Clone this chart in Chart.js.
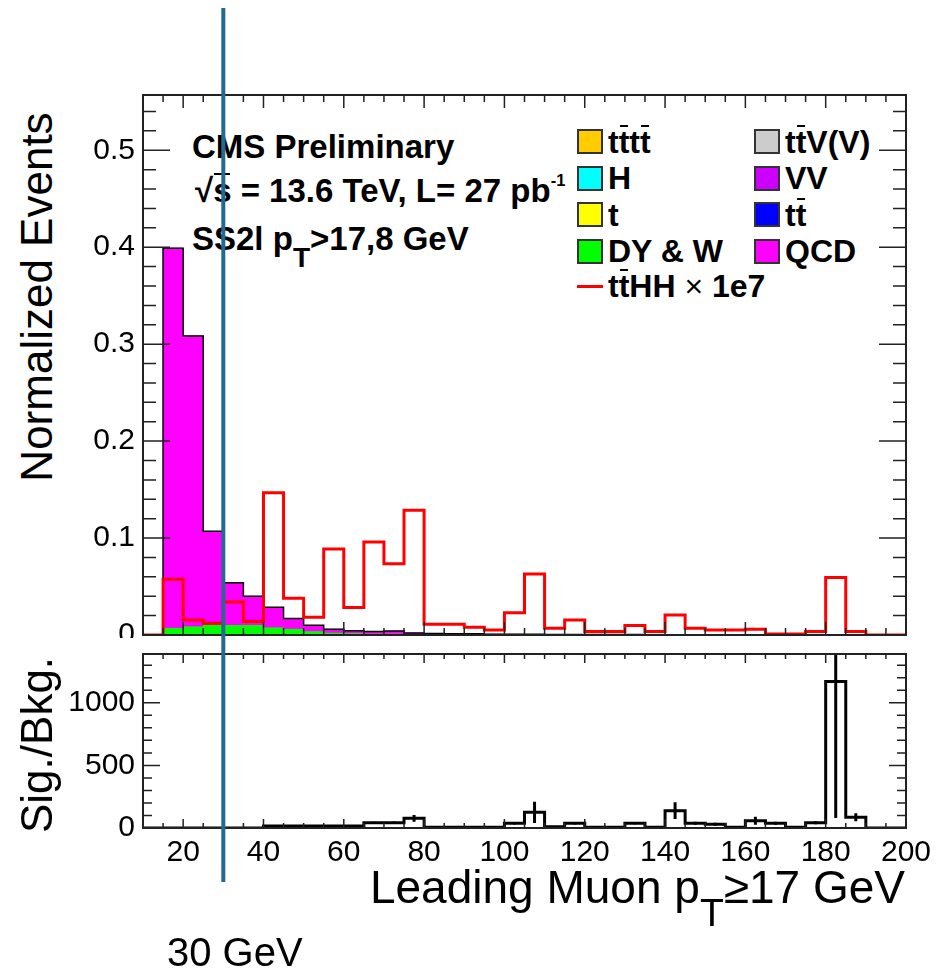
<!DOCTYPE html>
<html>
<head>
<meta charset="utf-8">
<title>Leading muon pT</title>
<script src="https://cdn.jsdelivr.net/npm/chart.js@4.4.1/dist/chart.umd.min.js"></script>
<style>
  html, body { margin: 0; padding: 0; background: #fff; }
  #page { position: relative; width: 937px; height: 971px; overflow: hidden;
          font-family: "Liberation Sans", Arial, Helvetica, sans-serif; color: #000; }
  #page canvas { position: absolute; left: 0; }
  #chartTop { top: 0; }
  #chartBottom { top: 638px; background: #fff; }
  .txt { position: absolute; line-height: 1; white-space: nowrap; }
  .b { font-weight: bold; font-size: 33px; }
  .ov { position: relative; }
  .ov::after { content: ''; position: absolute; left: 0.04em; right: 0.04em; top: 0.02em; border-top: 2px solid #000; }
  .sub { font-size: .85em; position: relative; top: .6em; line-height: 0; }
  .sup { font-size: .5em; position: relative; top: -1em; line-height: 0; }
  .vt { transform: translate(-50%, -50%) rotate(-90deg); font-size: 44px; }
  .legbox { position: absolute; width: 26px; height: 25px; box-sizing: border-box; border: 2px solid #333; }
  .legline { position: absolute; width: 26px; height: 3px; background: #ff0000; }
  .legtxt { position: absolute; line-height: 1; font-size: 32px; font-weight: bold; white-space: nowrap; }
</style>
</head>
<body>
<div id="page">
  <div class="txt b" style="left:192px;top:130px">CMS Preliminary</div>
  <div class="txt b" style="left:195px;top:174px">√<span class="ov">s</span> = 13.6 TeV, L= 27 pb<span class="sup">-1</span></div>
  <div class="txt b" style="left:192px;top:222px">SS2l p<span class="sub">T</span>&gt;17,8 GeV</div>
  <div class="txt vt" style="left:37px;top:297px">Normalized Events</div>
  <div id="legend"></div>
  <canvas id="chartTop" width="937" height="645"></canvas>
  <canvas id="chartBottom" width="937" height="333"></canvas>
  <div class="txt vt" style="left:37px;top:745px">Sig./Bkg.</div>
  <div class="txt" style="right:32px;top:864px;font-size:46px">Leading Muon p<span class="sub">T</span>≥17 GeV</div>
  <div class="txt" style="left:167px;top:932px;font-size:40px">30 GeV</div>
</div>
<script>
'use strict';

// histogram binning (GeV), 5 GeV bins from 10 to 200
const binEdges = [10, 15, 20, 25, 30, 35, 40, 45, 50, 55, 60, 65, 70, 75, 80, 85, 90, 95, 100,
  105, 110, 115, 120, 125, 130, 135, 140, 145, 150, 155, 160, 165, 170, 175, 180, 185, 190, 195, 200];

const xTickLabels = [20, 40, 60, 80, 100, 120, 140, 160, 180, 200];
const yTickLabelsTop = [0, 0.1, 0.2, 0.3, 0.4, 0.5];
const yTickLabelsBottom = [0, 500, 1000];

// backgrounds (normalized events)
const dyW = [0, 0.007, 0.0085, 0.010, 0.010, 0.010, 0.0075, 0.006, 0.0035, 0.002, 0.0015, 0.001, 0.001,
  0.0008, 0.0005, 0.0005, 0.0004, 0.0003, 0.0003, 0.0002, 0.0002, 0.0002, 0.0001, 0.0001, 0.0001,
  0.0001, 0.0001, 0, 0.0001, 0, 0, 0, 0, 0, 0, 0, 0, 0];
const qcd = [0, 0.392, 0.300, 0.097, 0.044, 0.030, 0.021, 0.011, 0.0065, 0.004, 0.003, 0.0025, 0.003,
  0.0012, 0.001, 0.0008, 0.0008, 0.0006, 0.0005, 0.0005, 0.0004, 0.0004, 0.0003, 0.0003, 0.0003,
  0.0002, 0.0002, 0.0002, 0.0002, 0.0001, 0.0001, 0.0001, 0.0001, 0.0001, 0.0001, 0, 0, 0];

// signal ttHH x 1e7
const ttHH = [0, 0.0576, 0.0155, 0.012, 0.034, 0.0138, 0.1467, 0.038, 0.0183, 0.0887, 0.0283, 0.096,
  0.0735, 0.1287, 0.011, 0.011, 0.008, 0.0052, 0.023, 0.0628, 0.0069, 0.0155, 0.0035, 0.0035, 0.0097,
  0.0035, 0.0207, 0.0069, 0.0052, 0.0052, 0.006, 0.001, 0.001, 0.0035, 0.0593, 0.0035, 0, 0];

// ratio panel
const sigBkg = [0, 0, 0, 0, 0, 0, 15, 15, 15, 15, 15, 42, 42, 77, 5, 5, 5, 5, 38, 125, 10, 38, 5, 5,
  38, 5, 138, 38, 30, 5, 58, 37, 5, 42, 1170, 85, 0, 0];
const sigBkgErr = [0, 0, 0, 0, 0, 0, 5, 5, 5, 5, 5, 8, 10, 27, 0, 0, 0, 0, 10, 85, 0, 10, 0, 0,
  8, 0, 67, 12, 12, 0, 32, 12, 0, 12, 1090, 32, 0, 0];

// legend (2 columns, row by row)
const legendNames = ['t<span class="ov">t</span>t<span class="ov">t</span>', 't<span class="ov">t</span>V(V)',
  'H', 'VV', 't', 't<span class="ov">t</span>', 'DY &amp; W', 'QCD'];
const legendColors = ['#ffcc00', '#cccccc', '#00ffff', '#cc00ff', '#ffff00', '#0000ff', '#00ff00', '#ff00ff'];
const signalName = 't<span class="ov">t</span>HH <span style="font-weight:normal">×</span> 1e7';

const cutValue = 30;

const total = qcd.map((v, i) => v + dyW[i]);

function toBars(values) {
  return values.map((v, i) => ({ x: (binEdges[i] + binEdges[i + 1]) / 2, y: v }));
}

function stepPoints(values) {
  const pts = values.map((v, i) => ({ x: binEdges[i], y: v }));
  pts.push({ x: binEdges[binEdges.length - 1], y: values[values.length - 1] });
  return pts;
}

// legend
const legendEl = document.getElementById('legend');
const legCols = [577, 754];
const legRows = [141.5, 178, 214.5, 251, 286];
legendNames.forEach((name, i) => {
  const col = i % 2, row = Math.floor(i / 2);
  const box = document.createElement('div');
  box.className = 'legbox';
  box.style.left = legCols[col] + 'px';
  box.style.top = (legRows[row] - 12.5) + 'px';
  box.style.background = legendColors[i];
  legendEl.appendChild(box);
  const t = document.createElement('div');
  t.className = 'legtxt';
  t.style.left = (legCols[col] + 31) + 'px';
  t.style.top = (legRows[row] - 15.6) + 'px';
  t.innerHTML = name;
  legendEl.appendChild(t);
});
const sl = document.createElement('div');
sl.className = 'legline';
sl.style.left = legCols[0] + 'px';
sl.style.top = (legRows[4] - 1.5) + 'px';
legendEl.appendChild(sl);
const st = document.createElement('div');
st.className = 'legtxt';
st.style.left = (legCols[0] + 31) + 'px';
st.style.top = (legRows[4] - 15.6) + 'px';
st.innerHTML = signalName;
legendEl.appendChild(st);

// ROOT-like frame with inward ticks on all four sides
function rootFrame(o) {
  return {
    id: 'rootFrame',
    afterDraw(chart) {
      const { ctx, chartArea: a, scales: { x, y } } = chart;
      ctx.save();
      ctx.strokeStyle = '#222';
      ctx.lineWidth = 1.5;
      ctx.beginPath();
      const xt = (step, len) => {
        for (let k = Math.ceil(x.min / step - 1e-9); k * step <= x.max + 1e-9; k++) {
          const px = x.getPixelForValue(k * step);
          ctx.moveTo(px, a.bottom); ctx.lineTo(px, a.bottom - len);
          ctx.moveTo(px, a.top); ctx.lineTo(px, a.top + len);
        }
      };
      const yt = (step, len) => {
        for (let k = Math.ceil(y.min / step - 1e-9); k * step <= y.max + 1e-9; k++) {
          const py = y.getPixelForValue(k * step);
          ctx.moveTo(a.left, py); ctx.lineTo(a.left + len, py);
          ctx.moveTo(a.right, py); ctx.lineTo(a.right - len, py);
        }
      };
      xt(o.xMinor, o.xMinorLen); xt(o.xMajor, o.xMajorLen);
      yt(o.yMinor, o.yMinorLen); yt(o.yMajor, o.yMajorLen);
      ctx.stroke();
      ctx.lineWidth = 2;
      ctx.strokeRect(a.left, a.top, a.width, a.height);
      ctx.restore();
    }
  };
}

function cutLine(from, to) {
  return {
    id: 'cutLine',
    afterDraw(chart) {
      const { ctx } = chart;
      const px = chart.scales.x.getPixelForValue(cutValue);
      ctx.save();
      ctx.strokeStyle = '#226a92';
      ctx.lineWidth = 4;
      ctx.beginPath(); ctx.moveTo(px, from); ctx.lineTo(px, to); ctx.stroke();
      ctx.restore();
    }
  };
}

const errorBars = {
  id: 'errorBars',
  afterDatasetsDraw(chart) {
    const { ctx, chartArea: a, scales: { x, y } } = chart;
    ctx.save();
    ctx.beginPath(); ctx.rect(a.left, a.top, a.width, a.height); ctx.clip();
    ctx.strokeStyle = '#000';
    ctx.lineWidth = 3;
    ctx.beginPath();
    sigBkg.forEach((v, i) => {
      const e = sigBkgErr[i];
      if (!e) return;
      const cx = x.getPixelForValue((binEdges[i] + binEdges[i + 1]) / 2);
      ctx.moveTo(cx, y.getPixelForValue(v - e));
      ctx.lineTo(cx, y.getPixelForValue(v + e));
    });
    ctx.stroke();
    ctx.restore();
  }
};

const tickFont = { family: '"Liberation Sans", Arial, sans-serif', size: 30 };

function xScale(showLabels, height) {
  return {
    type: 'linear', min: 10, max: 200, stacked: true, offset: false,
    grid: { display: false, drawTicks: false }, border: { display: false },
    ticks: { display: showLabels, font: tickFont, color: '#000', padding: 7, maxRotation: 0, autoSkip: false },
    afterBuildTicks: s => { s.ticks = xTickLabels.map(v => ({ value: v })); },
    afterFit: s => { s.height = height; s.paddingLeft = 0; s.paddingRight = 0; }
  };
}

function yScale(max, labels, fmt) {
  return {
    min: 0, max: max, stacked: true,
    grid: { display: false, drawTicks: false }, border: { display: false },
    ticks: { font: tickFont, color: '#000', padding: 8, callback: fmt },
    afterBuildTicks: s => { s.ticks = labels.map(v => ({ value: v })); },
    afterFit: s => { s.width = 143; s.paddingTop = 0; s.paddingBottom = 0; }
  };
}

// upper panel
new Chart(document.getElementById('chartTop'), {
  type: 'line',
  data: {
    datasets: [
      { label: 'ttHH x 1e7', data: stepPoints(ttHH), borderColor: '#ff0000', borderWidth: 3,
        stepped: 'before', stack: 'sig', fill: false },
      { label: 'total', data: stepPoints(total), borderColor: '#000', borderWidth: 1.5,
        stepped: 'before', stack: 'total', fill: false },
      { type: 'bar', label: 'DY & W', data: toBars(dyW), backgroundColor: '#00ff00', stack: 'bkg',
        barPercentage: 1, categoryPercentage: 1, borderWidth: 0 },
      { type: 'bar', label: 'QCD', data: toBars(qcd), backgroundColor: '#ff00ff', stack: 'bkg',
        barPercentage: 1, categoryPercentage: 1, borderWidth: 0 }
    ]
  },
  options: {
    responsive: false,
    animation: false,
    layout: { padding: { left: 0, right: 31, top: 95, bottom: 0 } },
    elements: { point: { radius: 0 } },
    plugins: { legend: { display: false }, tooltip: { enabled: false } },
    scales: {
      x: xScale(false, 10),
      y: yScale(0.557, yTickLabelsTop, v => v === 0 ? '0' : v.toFixed(1))
    }
  },
  plugins: [
    rootFrame({ xMajor: 20, xMinor: 5, xMajorLen: 13, xMinorLen: 7, yMajor: 0.1, yMinor: 0.02, yMajorLen: 27, yMinorLen: 13 }),
    cutLine(8, 645)
  ]
});

// lower panel: signal / background
new Chart(document.getElementById('chartBottom'), {
  type: 'line',
  data: {
    datasets: [
      { label: 'Sig./Bkg.', data: stepPoints(sigBkg), borderColor: '#000', borderWidth: 3,
        stepped: 'before', fill: false }
    ]
  },
  options: {
    responsive: false,
    animation: false,
    layout: { padding: { left: 0, right: 31, top: 16, bottom: 0 } },
    elements: { point: { radius: 0 } },
    plugins: { legend: { display: false }, tooltip: { enabled: false } },
    scales: {
      x: xScale(true, 143),
      y: yScale(1390, yTickLabelsBottom, v => String(v))
    }
  },
  plugins: [
    errorBars,
    rootFrame({ xMajor: 20, xMinor: 5, xMajorLen: 9, xMinorLen: 5, yMajor: 500, yMinor: 100, yMajorLen: 17, yMinorLen: 9 }),
    cutLine(0, 244)
  ]
});
</script>
</body>
</html>
